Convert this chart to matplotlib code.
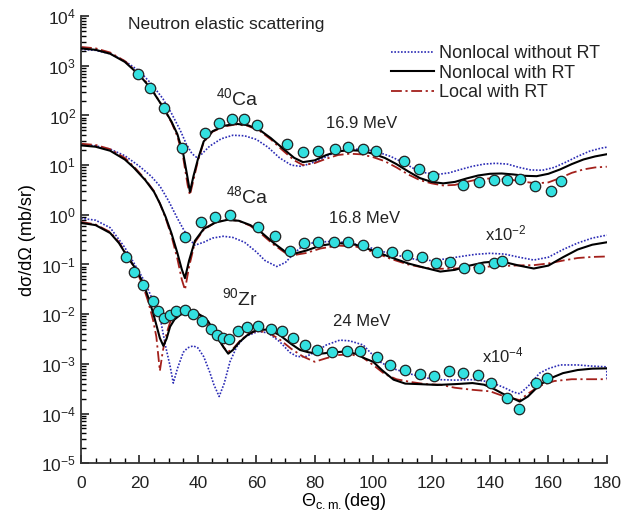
import matplotlib
matplotlib.use("Agg")
import matplotlib.pyplot as plt
from matplotlib.ticker import FixedLocator, MultipleLocator, LogFormatterMathtext, NullFormatter

plt.rcParams['font.family'] = ['Liberation Sans', 'DejaVu Sans']
plt.rcParams['mathtext.fontset'] = 'custom'
plt.rcParams['mathtext.rm'] = 'Liberation Sans'
plt.rcParams['mathtext.it'] = 'Liberation Sans:italic'
plt.rcParams['mathtext.bf'] = 'Liberation Sans:bold'

# ---------------- 40Ca (16.9 MeV) ----------------
ca40_exp_x = [19.4, 23.6, 28.4, 34.5, 42.4, 47.3, 51.6, 55.9, 60.3, 70.4, 75.9, 81.2, 86.9, 91.5,
              96.4, 101, 110.5, 115.8, 120.6, 130.8, 136.3, 141.3, 145.9, 150.2, 155.4, 160.8, 164.3]
ca40_exp_y = [700, 350, 143, 22, 44, 72, 85, 84, 64, 27, 18.6, 19.5, 20.7, 23.4,
              21.4, 19.5, 11.9, 8.5, 6.1, 4.0, 4.5, 5.0, 5.1, 5.2, 3.8, 3.05, 4.7]

ca40_nl_x = [0, 5, 10, 15, 20, 24, 28, 31, 33, 35, 36.5, 37.3, 38.5, 40, 42, 45, 49, 53, 57, 61, 65, 69,
             73, 76, 80, 84, 88, 92, 96, 100, 104, 108, 112, 116, 120, 124, 128, 132, 136, 140, 144,
             148, 152, 156, 160, 164, 168, 172, 176, 180]
ca40_nl_y = [2240, 2100, 1750, 1200, 650, 345, 150, 75, 42, 17, 5.5, 2.9, 6, 13, 30, 48, 62, 68, 64, 52,
             35, 22, 14, 11.5, 12.5, 16, 19, 20, 19.5, 17, 14, 10.5, 7.5, 5.5, 4.6, 4.3, 4.6, 5.4, 6.2,
             6.7, 6.8, 6.5, 6.1, 6.0, 6.7, 8.2, 10.5, 13, 15, 16.6]
ca40_loc_y = [2400, 2250, 1850, 1250, 680, 360, 150, 72, 38, 14, 4, 2.5, 5, 12, 29, 47, 60, 66, 62, 50,
              33, 20, 12.5, 10, 11, 13.5, 16, 17, 16.5, 14.5, 12, 9, 6.5, 5, 4.3, 3.9, 4.0, 4.6, 5.2,
              5.4, 5.3, 5.0, 4.6, 4.3, 4.5, 5.5, 7, 8.2, 9, 9.3]
ca40_nort_x = [0, 5, 10, 15, 20, 24, 28, 31, 34, 36, 38, 39.5, 41, 44, 48, 52, 56, 60, 64, 68, 72, 75,
               78, 82, 86, 90, 94, 98, 102, 106, 110, 114, 118, 122, 126, 130, 134, 138, 142, 146, 150,
               154, 158, 162, 166, 170, 174, 178, 180]
ca40_nort_y = [2150, 2050, 1750, 1250, 780, 440, 220, 110, 50, 27, 17, 14.5, 16, 24, 34, 40, 39, 33, 23,
               14, 10, 9.5, 10.5, 13, 17, 20, 21, 20.5, 18, 15, 11.5, 8.5, 7, 6.5, 7, 8.2, 9.5, 10.5,
               10.9, 10.5, 9, 8, 7.9, 9, 11.5, 15, 19, 22, 23]

# ---------------- 48Ca (16.8 MeV, x10^-2) ----------------
ca48_exp_x = [35.6, 41, 45.9, 51, 60.7, 66.4, 71.5, 76.5, 81.3, 86.6, 91.3, 96.6, 101.2, 106.4,
              111.5, 116.6, 121.4, 126.3, 131.2, 136.2, 141.3, 144]
ca48_exp_y = [0.35, 0.71, 0.92, 1.0, 0.58, 0.37, 0.19, 0.275, 0.28, 0.285, 0.28, 0.245, 0.18, 0.178,
              0.155, 0.14, 0.106, 0.11, 0.086, 0.084, 0.105, 0.116]

ca48_nl_x = [0, 5, 10, 15, 18, 22, 25, 27, 29, 31, 33, 34.5, 35.6, 37, 39, 42, 46, 50, 54, 58, 62, 66,
             70, 73, 77, 82, 88, 94, 100, 106, 112, 118, 123, 128, 133, 138, 142, 146, 150, 155, 160,
             165, 170, 175, 180]
ca48_nl_y = [25, 23.5, 19.5, 13, 9, 5.0, 2.9, 1.7, 0.9, 0.42, 0.17, 0.08, 0.053, 0.12, 0.3, 0.52, 0.7,
             0.79, 0.76, 0.62, 0.43, 0.27, 0.18, 0.165, 0.19, 0.24, 0.27, 0.25, 0.19, 0.14, 0.105,
             0.085, 0.072, 0.078, 0.095, 0.11, 0.115, 0.108, 0.095, 0.083, 0.095, 0.14, 0.2, 0.25, 0.28]
ca48_loc_y = [27, 25.5, 21, 14, 9.5, 5.2, 3.0, 1.7, 0.85, 0.37, 0.13, 0.05, 0.031, 0.09, 0.28, 0.5,
              0.7, 0.8, 0.76, 0.6, 0.4, 0.25, 0.17, 0.155, 0.17, 0.21, 0.24, 0.23, 0.18, 0.13, 0.1,
              0.085, 0.082, 0.083, 0.086, 0.09, 0.092, 0.094, 0.096, 0.097, 0.105, 0.12, 0.135, 0.142,
              0.145]
ca48_nort_x = [0, 5, 10, 15, 20, 24, 27, 30, 33, 35, 37, 39, 42, 45, 48.7, 52, 56, 60, 63, 67, 70, 73,
               76, 80, 85, 90, 95, 100, 105, 110, 115, 120, 125, 130, 135, 140, 145, 150, 155, 160, 165,
               170, 175, 180]
ca48_nort_y = [26, 24.5, 21, 15.5, 9.5, 6, 3.8, 1.9, 0.85, 0.52, 0.33, 0.245, 0.28, 0.34, 0.37, 0.35,
               0.28, 0.18, 0.12, 0.091, 0.11, 0.17, 0.24, 0.28, 0.29, 0.28, 0.25, 0.21, 0.17, 0.145,
               0.125, 0.12, 0.13, 0.145, 0.16, 0.168, 0.162, 0.14, 0.123, 0.14, 0.2, 0.27, 0.34, 0.39]

# ---------------- 90Zr (24 MeV, x10^-4) ----------------
zr_exp_x = [15.4, 18.3, 21.3, 24.5, 26.2, 28.5, 30.5, 32.5, 35.6, 38.4, 41.5, 44.5, 46.7, 48.7, 50.8,
            53.8, 56.7, 60.7, 64.9, 68.7, 72.7, 76.8, 80.8, 85.8, 90.9, 95.5, 101.2, 105.7, 110.9,
            116, 120.9, 126, 130.8, 136, 140.5, 145.7, 149.9, 155.6, 159.4]
zr_exp_y = [0.14, 0.072, 0.039, 0.0185, 0.0118, 0.0083, 0.0094, 0.0116, 0.0122, 0.0100, 0.0073, 0.005,
            0.0038, 0.0033, 0.0031, 0.0046, 0.0056, 0.0059, 0.0051, 0.0045, 0.0033, 0.0024, 0.0019,
            0.00176, 0.0018, 0.0018, 0.0014, 0.00095, 0.00076, 0.00063, 0.00057, 0.00073, 0.00066,
            0.0006, 0.00042, 0.000203, 0.000122, 0.00042, 0.00053]

zr_nl_x = [0, 5, 10, 13, 16, 19, 21.3, 23, 24.7, 26, 27, 28.2, 29.3, 30.5, 32, 33.9, 35.5, 37.3, 39.5,
           41.9, 43.5, 45.3, 47, 48.7, 50.4, 52, 54.4, 57, 60, 64, 68, 72, 75, 78, 82, 86, 90, 94, 97,
           100, 103, 107, 111, 116, 122, 128, 134, 138, 141, 145, 148, 150.2, 153, 157, 161, 165, 170,
           175, 180]
zr_nl_y = [0.69, 0.62, 0.43, 0.27, 0.14, 0.078, 0.042, 0.022, 0.0105, 0.0055, 0.0033, 0.0023, 0.0032,
           0.0056, 0.0078, 0.0096, 0.0107, 0.0112, 0.0105, 0.0089, 0.0072, 0.0048, 0.0032, 0.0022,
           0.0016, 0.0019, 0.0028, 0.0038, 0.0048, 0.0049, 0.0038, 0.0025, 0.0019, 0.0017, 0.0016,
           0.0017, 0.00176, 0.0016, 0.0013, 0.0011, 0.00075, 0.00048, 0.0004, 0.00039, 0.000376,
           0.00039, 0.00041, 0.00038, 0.00032, 0.00024, 0.0002, 0.000174, 0.00022, 0.000376, 0.00052,
           0.00065, 0.00075, 0.0008, 0.00081]
zr_loc_x = [0, 5, 10, 13, 16, 19, 21.3, 23, 24.7, 25.8, 27, 28, 29.3, 31, 32.7, 35, 37.3, 39.5, 41.9,
            44, 46, 47.6, 49, 50.4, 52, 54.4, 57, 60, 64, 68, 72, 76, 80, 84, 88, 92, 96, 100, 104,
            108, 113, 118, 123, 128, 134, 140, 145, 148, 150.2, 153, 157, 162, 168, 174, 180]
zr_loc_y = [0.72, 0.64, 0.45, 0.28, 0.145, 0.075, 0.036, 0.018, 0.0075, 0.0035, 0.00072, 0.0018, 0.0041,
            0.0085, 0.0122, 0.013, 0.013, 0.0115, 0.0082, 0.0055, 0.0038, 0.0028, 0.0021, 0.00176,
            0.002, 0.0029, 0.0039, 0.0046, 0.0043, 0.0031, 0.002, 0.0014, 0.0011, 0.0013, 0.0015,
            0.00155, 0.0014, 0.00095, 0.00062, 0.00049, 0.00043, 0.00039, 0.00038, 0.00033, 0.0003,
            0.00028, 0.00022, 0.0002, 0.000186, 0.00025, 0.00036, 0.00045, 0.00049, 0.00049, 0.00049]
zr_nort_x = [0, 5, 10, 15, 18, 21, 23, 25, 27, 29, 30.5, 31.6, 33, 35, 36.5, 38.4, 40, 42, 44, 45.5,
             47.3, 49, 51, 53.3, 56, 60.7, 64, 68, 71.5, 74, 77, 80, 84, 88.6, 92, 96.6, 99, 102.3, 105,
             108, 113, 118, 122.9, 128, 134.3, 138, 141, 145, 148, 150.2, 153, 157, 160, 164, 170, 175,
             180, 180]
zr_nort_y = [0.85, 0.78, 0.55, 0.22, 0.11, 0.055, 0.031, 0.017, 0.009, 0.0022, 0.0009, 0.00041, 0.0008,
             0.0017, 0.0021, 0.0023, 0.0021, 0.0014, 0.0007, 0.00038, 0.00022, 0.0004, 0.0011, 0.0022,
             0.0035, 0.0045, 0.0042, 0.0028, 0.0017, 0.0014, 0.0014, 0.0017, 0.0024, 0.003, 0.0029,
             0.0024, 0.0017, 0.0011, 0.0009, 0.00076, 0.00062, 0.00052, 0.00048, 0.00047, 0.00048,
             0.00045, 0.00041, 0.00033, 0.00027, 0.00025, 0.00035, 0.00065, 0.0008, 0.00095, 0.00095,
             0.0009, 0.00087, 0.0005]

legend_labels = ["Nonlocal without RT", "Nonlocal with RT", "Local with RT"]
y_decades = list(range(-5, 5))

BLUE = "#2b2bb5"
RED = "#a3201b"
CYAN = "#33e0e0"
TXT = '#222222'

fig = plt.figure(figsize=(6.23, 5.21), dpi=100)
ax = fig.add_axes([0.130, 0.111, 0.844, 0.858])

datasets = [
    (ca40_nort_x, ca40_nort_y, ca40_nl_x, ca40_nl_y, ca40_nl_x, ca40_loc_y, ca40_exp_x, ca40_exp_y),
    (ca48_nort_x, ca48_nort_y, ca48_nl_x, ca48_nl_y, ca48_nl_x, ca48_loc_y, ca48_exp_x, ca48_exp_y),
    (zr_nort_x, zr_nort_y, zr_nl_x, zr_nl_y, zr_loc_x, zr_loc_y, zr_exp_x, zr_exp_y),
]
for i, (bx, by, kx, ky, rx, ry, ex, ey) in enumerate(datasets):
    lb, = ax.plot(bx, by, color=BLUE, ls=(0, (1, 1)), lw=1.2, zorder=2)
    lk, = ax.plot(kx, ky, color='black', ls='-', lw=1.5, zorder=3)
    lr, = ax.plot(rx, ry, color=RED, ls=(0, (6, 2, 1.2, 2)), lw=1.3, zorder=2)
    ax.plot(ex, ey, 'o', ms=7.5, mfc=CYAN, mec='#222222', mew=0.9, zorder=4)
    if i == 0:
        handles = [lb, lk, lr]

ax.set_yscale('log')
ax.set_xlim(0, 180)
ax.set_ylim(1e-5, 1e4)
ax.xaxis.set_major_locator(MultipleLocator(20))
ax.xaxis.set_minor_locator(MultipleLocator(5))
major_y = [10.0 ** k for k in y_decades]
minor_y = [m * 10.0 ** k for k in y_decades[:-1] for m in range(2, 10)]
ax.yaxis.set_major_locator(FixedLocator(major_y))
ax.yaxis.set_minor_locator(FixedLocator(minor_y))
ax.yaxis.set_major_formatter(LogFormatterMathtext())
ax.yaxis.set_minor_formatter(NullFormatter())
ax.tick_params(axis='both', which='major', direction='in', length=6, width=1.2, labelsize=12.5, colors=TXT)
ax.tick_params(axis='both', which='minor', direction='in', length=3.5, width=1.0)
ax.tick_params(axis='x', pad=9)
for s in ['top', 'right']:
    ax.spines[s].set_visible(False)
for s in ['left', 'bottom']:
    ax.spines[s].set_linewidth(1.3)
    ax.spines[s].set_color('#333333')

ax.set_ylabel('dσ/dΩ (mb/sr)', fontsize=13, labelpad=4)
ax.set_xlabel(r'$\Theta_{\rm c.m.}$(deg)', fontsize=13, labelpad=0)

ax.text(16, 6900, 'Neutron elastic scattering', fontsize=12.5, va='center', color=TXT)
ax.text(53.4, 225, r'$^{40}$Ca', fontsize=14, ha='center', va='center', color=TXT)
ax.text(96, 68, '16.9 MeV', ha='center', va='center', fontsize=12, color=TXT)
ax.text(57, 2.4, r'$^{48}$Ca', fontsize=14, ha='center', va='center', color=TXT)
ax.text(97, 0.86, '16.8 MeV', ha='center', va='center', fontsize=12, color=TXT)
ax.text(145.4, 0.43, r'x10$^{-2}$', ha='center', va='center', fontsize=12, color=TXT)
ax.text(54.4, 0.021, r'$^{90}$Zr', fontsize=14, ha='center', va='center', color=TXT)
ax.text(96, 0.0072, '24 MeV', ha='center', va='center', fontsize=12, color=TXT)
ax.text(144.4, 0.0015, r'x10$^{-4}$', ha='center', va='center', fontsize=12, color=TXT)

leg = ax.legend(handles, legend_labels, loc='upper right', bbox_to_anchor=(1.0, 0.952),
                frameon=False, fontsize=13, handlelength=2.4, handletextpad=0.25,
                labelspacing=0.15, borderaxespad=0.0)
for t in leg.get_texts():
    t.set_color(TXT)

fig.savefig('out.png', dpi=100)
